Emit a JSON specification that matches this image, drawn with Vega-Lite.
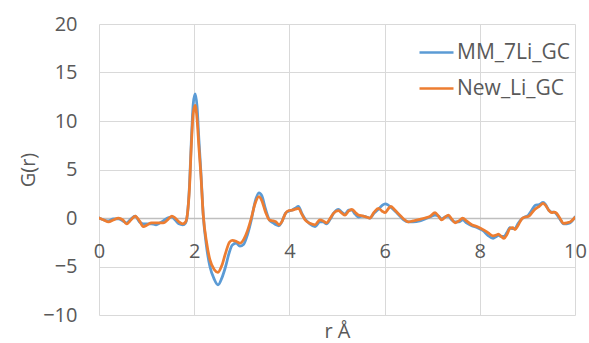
{
  "$schema": "https://vega.github.io/schema/vega-lite/v6.json",
  "width": 476,
  "height": 291,
  "autosize": {"type": "none"},
  "padding": {"left": 99, "top": 24, "right": 14, "bottom": 28},
  "background": "white",
  "config": {
    "view": {"stroke": null},
    "font": "Open Sans",
    "axis": {"labelColor": "#595959", "titleColor": "#595959", "titleFontWeight": "normal", "gridColor": "#d9d9d9", "gridWidth": 1, "ticks": false}
  },
  "datasets": {
    "pts": [
      {"r":0,"G":0,"s":"MM_7Li_GC"},{"r":0.1,"G":-0.2,"s":"MM_7Li_GC"},{"r":0.2,"G":-0.3,"s":"MM_7Li_GC"},{"r":0.3,"G":-0.1,"s":"MM_7Li_GC"},{"r":0.41,"G":-0.1,"s":"MM_7Li_GC"},{"r":0.5,"G":-0.3,"s":"MM_7Li_GC"},{"r":0.58,"G":-0.5,"s":"MM_7Li_GC"},{"r":0.67,"G":-0.1,"s":"MM_7Li_GC"},{"r":0.76,"G":0.2,"s":"MM_7Li_GC"},{"r":0.85,"G":-0.4,"s":"MM_7Li_GC"},{"r":0.93,"G":-0.6,"s":"MM_7Li_GC"},{"r":1.02,"G":-0.6,"s":"MM_7Li_GC"},{"r":1.1,"G":-0.6,"s":"MM_7Li_GC"},{"r":1.2,"G":-0.7,"s":"MM_7Li_GC"},{"r":1.28,"G":-0.5,"s":"MM_7Li_GC"},{"r":1.35,"G":-0.3,"s":"MM_7Li_GC"},{"r":1.44,"G":0.0,"s":"MM_7Li_GC"},{"r":1.53,"G":0.1,"s":"MM_7Li_GC"},{"r":1.6,"G":-0.2,"s":"MM_7Li_GC"},{"r":1.68,"G":-0.6,"s":"MM_7Li_GC"},{"r":1.76,"G":-0.7,"s":"MM_7Li_GC"},{"r":1.82,"G":-0.5,"s":"MM_7Li_GC"},{"r":1.86,"G":0.5,"s":"MM_7Li_GC"},{"r":1.9,"G":3.3,"s":"MM_7Li_GC"},{"r":1.94,"G":8.0,"s":"MM_7Li_GC"},{"r":1.98,"G":11.8,"s":"MM_7Li_GC"},{"r":2.02,"G":12.8,"s":"MM_7Li_GC"},{"r":2.06,"G":11.5,"s":"MM_7Li_GC"},{"r":2.1,"G":8.0,"s":"MM_7Li_GC"},{"r":2.14,"G":4.8,"s":"MM_7Li_GC"},{"r":2.19,"G":0.3,"s":"MM_7Li_GC"},{"r":2.26,"G":-3.0,"s":"MM_7Li_GC"},{"r":2.33,"G":-5.0,"s":"MM_7Li_GC"},{"r":2.42,"G":-6.3,"s":"MM_7Li_GC"},{"r":2.5,"G":-6.9,"s":"MM_7Li_GC"},{"r":2.58,"G":-6.2,"s":"MM_7Li_GC"},{"r":2.66,"G":-5.0,"s":"MM_7Li_GC"},{"r":2.74,"G":-3.5,"s":"MM_7Li_GC"},{"r":2.8,"G":-2.8,"s":"MM_7Li_GC"},{"r":2.88,"G":-2.6,"s":"MM_7Li_GC"},{"r":2.96,"G":-2.9,"s":"MM_7Li_GC"},{"r":3.04,"G":-2.7,"s":"MM_7Li_GC"},{"r":3.12,"G":-1.7,"s":"MM_7Li_GC"},{"r":3.2,"G":-0.2,"s":"MM_7Li_GC"},{"r":3.28,"G":1.7,"s":"MM_7Li_GC"},{"r":3.36,"G":2.6,"s":"MM_7Li_GC"},{"r":3.42,"G":2.3,"s":"MM_7Li_GC"},{"r":3.5,"G":0.9,"s":"MM_7Li_GC"},{"r":3.58,"G":-0.2,"s":"MM_7Li_GC"},{"r":3.66,"G":-0.5,"s":"MM_7Li_GC"},{"r":3.72,"G":-0.7,"s":"MM_7Li_GC"},{"r":3.78,"G":-0.8,"s":"MM_7Li_GC"},{"r":3.84,"G":-0.4,"s":"MM_7Li_GC"},{"r":3.92,"G":0.5,"s":"MM_7Li_GC"},{"r":3.98,"G":0.7,"s":"MM_7Li_GC"},{"r":4.05,"G":0.8,"s":"MM_7Li_GC"},{"r":4.12,"G":1.0,"s":"MM_7Li_GC"},{"r":4.19,"G":1.2,"s":"MM_7Li_GC"},{"r":4.26,"G":0.5,"s":"MM_7Li_GC"},{"r":4.33,"G":-0.1,"s":"MM_7Li_GC"},{"r":4.43,"G":-0.6,"s":"MM_7Li_GC"},{"r":4.54,"G":-0.9,"s":"MM_7Li_GC"},{"r":4.64,"G":-0.4,"s":"MM_7Li_GC"},{"r":4.71,"G":-0.4,"s":"MM_7Li_GC"},{"r":4.78,"G":-0.6,"s":"MM_7Li_GC"},{"r":4.86,"G":-0.1,"s":"MM_7Li_GC"},{"r":4.93,"G":0.5,"s":"MM_7Li_GC"},{"r":5.03,"G":0.9,"s":"MM_7Li_GC"},{"r":5.1,"G":0.6,"s":"MM_7Li_GC"},{"r":5.17,"G":0.4,"s":"MM_7Li_GC"},{"r":5.24,"G":0.8,"s":"MM_7Li_GC"},{"r":5.31,"G":0.8,"s":"MM_7Li_GC"},{"r":5.38,"G":0.4,"s":"MM_7Li_GC"},{"r":5.45,"G":0.1,"s":"MM_7Li_GC"},{"r":5.55,"G":0.2,"s":"MM_7Li_GC"},{"r":5.62,"G":0.1,"s":"MM_7Li_GC"},{"r":5.69,"G":0.0,"s":"MM_7Li_GC"},{"r":5.78,"G":0.5,"s":"MM_7Li_GC"},{"r":5.87,"G":0.9,"s":"MM_7Li_GC"},{"r":5.95,"G":1.3,"s":"MM_7Li_GC"},{"r":6.01,"G":1.45,"s":"MM_7Li_GC"},{"r":6.07,"G":1.35,"s":"MM_7Li_GC"},{"r":6.13,"G":1.1,"s":"MM_7Li_GC"},{"r":6.2,"G":0.8,"s":"MM_7Li_GC"},{"r":6.26,"G":0.5,"s":"MM_7Li_GC"},{"r":6.32,"G":0.2,"s":"MM_7Li_GC"},{"r":6.4,"G":-0.2,"s":"MM_7Li_GC"},{"r":6.5,"G":-0.4,"s":"MM_7Li_GC"},{"r":6.6,"G":-0.4,"s":"MM_7Li_GC"},{"r":6.74,"G":-0.3,"s":"MM_7Li_GC"},{"r":6.85,"G":-0.1,"s":"MM_7Li_GC"},{"r":6.95,"G":0.1,"s":"MM_7Li_GC"},{"r":7.06,"G":0.3,"s":"MM_7Li_GC"},{"r":7.13,"G":0.2,"s":"MM_7Li_GC"},{"r":7.2,"G":-0.1,"s":"MM_7Li_GC"},{"r":7.27,"G":0.1,"s":"MM_7Li_GC"},{"r":7.34,"G":0.2,"s":"MM_7Li_GC"},{"r":7.41,"G":-0.2,"s":"MM_7Li_GC"},{"r":7.48,"G":-0.4,"s":"MM_7Li_GC"},{"r":7.56,"G":-0.4,"s":"MM_7Li_GC"},{"r":7.64,"G":-0.2,"s":"MM_7Li_GC"},{"r":7.72,"G":-0.5,"s":"MM_7Li_GC"},{"r":7.83,"G":-0.8,"s":"MM_7Li_GC"},{"r":7.95,"G":-1.0,"s":"MM_7Li_GC"},{"r":8.07,"G":-1.3,"s":"MM_7Li_GC"},{"r":8.17,"G":-1.8,"s":"MM_7Li_GC"},{"r":8.28,"G":-2.1,"s":"MM_7Li_GC"},{"r":8.35,"G":-1.9,"s":"MM_7Li_GC"},{"r":8.39,"G":-1.8,"s":"MM_7Li_GC"},{"r":8.45,"G":-1.9,"s":"MM_7Li_GC"},{"r":8.51,"G":-1.9,"s":"MM_7Li_GC"},{"r":8.57,"G":-1.5,"s":"MM_7Li_GC"},{"r":8.63,"G":-1.0,"s":"MM_7Li_GC"},{"r":8.69,"G":-1.1,"s":"MM_7Li_GC"},{"r":8.74,"G":-1.1,"s":"MM_7Li_GC"},{"r":8.8,"G":-0.6,"s":"MM_7Li_GC"},{"r":8.88,"G":-0.1,"s":"MM_7Li_GC"},{"r":8.95,"G":0.1,"s":"MM_7Li_GC"},{"r":9.02,"G":0.3,"s":"MM_7Li_GC"},{"r":9.09,"G":0.8,"s":"MM_7Li_GC"},{"r":9.16,"G":1.3,"s":"MM_7Li_GC"},{"r":9.25,"G":1.4,"s":"MM_7Li_GC"},{"r":9.33,"G":1.6,"s":"MM_7Li_GC"},{"r":9.38,"G":1.4,"s":"MM_7Li_GC"},{"r":9.45,"G":0.8,"s":"MM_7Li_GC"},{"r":9.51,"G":0.6,"s":"MM_7Li_GC"},{"r":9.56,"G":0.6,"s":"MM_7Li_GC"},{"r":9.61,"G":0.4,"s":"MM_7Li_GC"},{"r":9.68,"G":-0.1,"s":"MM_7Li_GC"},{"r":9.76,"G":-0.6,"s":"MM_7Li_GC"},{"r":9.83,"G":-0.6,"s":"MM_7Li_GC"},{"r":9.9,"G":-0.5,"s":"MM_7Li_GC"},{"r":10,"G":0.1,"s":"MM_7Li_GC"},

      {"r":0,"G":0,"s":"New_Li_GC"},{"r":0.1,"G":-0.2,"s":"New_Li_GC"},{"r":0.2,"G":-0.4,"s":"New_Li_GC"},{"r":0.3,"G":-0.2,"s":"New_Li_GC"},{"r":0.41,"G":0.0,"s":"New_Li_GC"},{"r":0.5,"G":-0.2,"s":"New_Li_GC"},{"r":0.58,"G":-0.6,"s":"New_Li_GC"},{"r":0.67,"G":-0.2,"s":"New_Li_GC"},{"r":0.76,"G":0.2,"s":"New_Li_GC"},{"r":0.85,"G":-0.3,"s":"New_Li_GC"},{"r":0.93,"G":-0.9,"s":"New_Li_GC"},{"r":1.02,"G":-0.7,"s":"New_Li_GC"},{"r":1.1,"G":-0.5,"s":"New_Li_GC"},{"r":1.2,"G":-0.5,"s":"New_Li_GC"},{"r":1.28,"G":-0.5,"s":"New_Li_GC"},{"r":1.35,"G":-0.5,"s":"New_Li_GC"},{"r":1.44,"G":-0.2,"s":"New_Li_GC"},{"r":1.53,"G":0.2,"s":"New_Li_GC"},{"r":1.6,"G":0.0,"s":"New_Li_GC"},{"r":1.68,"G":-0.4,"s":"New_Li_GC"},{"r":1.76,"G":-0.6,"s":"New_Li_GC"},{"r":1.82,"G":-0.4,"s":"New_Li_GC"},{"r":1.86,"G":0.5,"s":"New_Li_GC"},{"r":1.9,"G":3.0,"s":"New_Li_GC"},{"r":1.94,"G":7.5,"s":"New_Li_GC"},{"r":1.98,"G":10.8,"s":"New_Li_GC"},{"r":2.02,"G":11.6,"s":"New_Li_GC"},{"r":2.06,"G":10.2,"s":"New_Li_GC"},{"r":2.1,"G":7.2,"s":"New_Li_GC"},{"r":2.14,"G":4.5,"s":"New_Li_GC"},{"r":2.19,"G":0.3,"s":"New_Li_GC"},{"r":2.26,"G":-2.5,"s":"New_Li_GC"},{"r":2.33,"G":-4.3,"s":"New_Li_GC"},{"r":2.42,"G":-5.3,"s":"New_Li_GC"},{"r":2.5,"G":-5.6,"s":"New_Li_GC"},{"r":2.58,"G":-4.9,"s":"New_Li_GC"},{"r":2.66,"G":-3.6,"s":"New_Li_GC"},{"r":2.74,"G":-2.5,"s":"New_Li_GC"},{"r":2.8,"G":-2.3,"s":"New_Li_GC"},{"r":2.88,"G":-2.4,"s":"New_Li_GC"},{"r":2.96,"G":-2.6,"s":"New_Li_GC"},{"r":3.04,"G":-2.2,"s":"New_Li_GC"},{"r":3.12,"G":-1.3,"s":"New_Li_GC"},{"r":3.2,"G":0.0,"s":"New_Li_GC"},{"r":3.28,"G":1.5,"s":"New_Li_GC"},{"r":3.36,"G":2.2,"s":"New_Li_GC"},{"r":3.42,"G":1.8,"s":"New_Li_GC"},{"r":3.5,"G":0.6,"s":"New_Li_GC"},{"r":3.58,"G":-0.2,"s":"New_Li_GC"},{"r":3.66,"G":-0.3,"s":"New_Li_GC"},{"r":3.72,"G":-0.4,"s":"New_Li_GC"},{"r":3.78,"G":-0.7,"s":"New_Li_GC"},{"r":3.84,"G":-0.4,"s":"New_Li_GC"},{"r":3.92,"G":0.5,"s":"New_Li_GC"},{"r":3.98,"G":0.75,"s":"New_Li_GC"},{"r":4.05,"G":0.8,"s":"New_Li_GC"},{"r":4.12,"G":0.9,"s":"New_Li_GC"},{"r":4.19,"G":1.0,"s":"New_Li_GC"},{"r":4.26,"G":0.4,"s":"New_Li_GC"},{"r":4.33,"G":-0.2,"s":"New_Li_GC"},{"r":4.43,"G":-0.55,"s":"New_Li_GC"},{"r":4.54,"G":-0.7,"s":"New_Li_GC"},{"r":4.64,"G":-0.2,"s":"New_Li_GC"},{"r":4.71,"G":-0.3,"s":"New_Li_GC"},{"r":4.78,"G":-0.5,"s":"New_Li_GC"},{"r":4.86,"G":0.0,"s":"New_Li_GC"},{"r":4.93,"G":0.5,"s":"New_Li_GC"},{"r":5.03,"G":0.75,"s":"New_Li_GC"},{"r":5.1,"G":0.5,"s":"New_Li_GC"},{"r":5.17,"G":0.3,"s":"New_Li_GC"},{"r":5.24,"G":0.7,"s":"New_Li_GC"},{"r":5.31,"G":0.9,"s":"New_Li_GC"},{"r":5.38,"G":0.6,"s":"New_Li_GC"},{"r":5.45,"G":0.3,"s":"New_Li_GC"},{"r":5.55,"G":0.2,"s":"New_Li_GC"},{"r":5.62,"G":0.1,"s":"New_Li_GC"},{"r":5.69,"G":0.0,"s":"New_Li_GC"},{"r":5.78,"G":0.6,"s":"New_Li_GC"},{"r":5.87,"G":1.0,"s":"New_Li_GC"},{"r":5.95,"G":0.7,"s":"New_Li_GC"},{"r":6.01,"G":0.55,"s":"New_Li_GC"},{"r":6.07,"G":0.9,"s":"New_Li_GC"},{"r":6.13,"G":1.2,"s":"New_Li_GC"},{"r":6.2,"G":0.9,"s":"New_Li_GC"},{"r":6.26,"G":0.6,"s":"New_Li_GC"},{"r":6.32,"G":0.3,"s":"New_Li_GC"},{"r":6.4,"G":-0.1,"s":"New_Li_GC"},{"r":6.5,"G":-0.4,"s":"New_Li_GC"},{"r":6.6,"G":-0.3,"s":"New_Li_GC"},{"r":6.74,"G":-0.15,"s":"New_Li_GC"},{"r":6.85,"G":0.0,"s":"New_Li_GC"},{"r":6.95,"G":0.15,"s":"New_Li_GC"},{"r":7.06,"G":0.55,"s":"New_Li_GC"},{"r":7.13,"G":0.2,"s":"New_Li_GC"},{"r":7.2,"G":-0.2,"s":"New_Li_GC"},{"r":7.27,"G":0.1,"s":"New_Li_GC"},{"r":7.34,"G":0.3,"s":"New_Li_GC"},{"r":7.41,"G":-0.1,"s":"New_Li_GC"},{"r":7.48,"G":-0.5,"s":"New_Li_GC"},{"r":7.56,"G":-0.3,"s":"New_Li_GC"},{"r":7.64,"G":0.0,"s":"New_Li_GC"},{"r":7.72,"G":-0.3,"s":"New_Li_GC"},{"r":7.83,"G":-0.7,"s":"New_Li_GC"},{"r":7.95,"G":-0.9,"s":"New_Li_GC"},{"r":8.07,"G":-1.2,"s":"New_Li_GC"},{"r":8.17,"G":-1.5,"s":"New_Li_GC"},{"r":8.28,"G":-1.85,"s":"New_Li_GC"},{"r":8.35,"G":-1.75,"s":"New_Li_GC"},{"r":8.39,"G":-1.65,"s":"New_Li_GC"},{"r":8.45,"G":-1.9,"s":"New_Li_GC"},{"r":8.51,"G":-2.1,"s":"New_Li_GC"},{"r":8.57,"G":-1.7,"s":"New_Li_GC"},{"r":8.63,"G":-1.1,"s":"New_Li_GC"},{"r":8.69,"G":-1.0,"s":"New_Li_GC"},{"r":8.74,"G":-1.2,"s":"New_Li_GC"},{"r":8.8,"G":-0.8,"s":"New_Li_GC"},{"r":8.88,"G":-0.1,"s":"New_Li_GC"},{"r":8.95,"G":0.1,"s":"New_Li_GC"},{"r":9.02,"G":0.15,"s":"New_Li_GC"},{"r":9.09,"G":0.5,"s":"New_Li_GC"},{"r":9.16,"G":0.9,"s":"New_Li_GC"},{"r":9.25,"G":1.2,"s":"New_Li_GC"},{"r":9.33,"G":1.5,"s":"New_Li_GC"},{"r":9.38,"G":1.3,"s":"New_Li_GC"},{"r":9.45,"G":0.8,"s":"New_Li_GC"},{"r":9.51,"G":0.55,"s":"New_Li_GC"},{"r":9.56,"G":0.6,"s":"New_Li_GC"},{"r":9.61,"G":0.5,"s":"New_Li_GC"},{"r":9.68,"G":0.0,"s":"New_Li_GC"},{"r":9.76,"G":-0.55,"s":"New_Li_GC"},{"r":9.83,"G":-0.5,"s":"New_Li_GC"},{"r":9.9,"G":-0.4,"s":"New_Li_GC"},{"r":10,"G":0.05,"s":"New_Li_GC"}
    ]
  },
  "data": {"name": "pts"},
  "mark": {"type": "line", "interpolate": "monotone", "strokeWidth": 2.75, "strokeCap": "round", "strokeJoin": "round", "clip": true},
  "encoding": {
    "x": {
      "field": "r", "type": "quantitative",
      "scale": {"domain": [0, 10], "nice": false},
      "axis": {"title": "r Å", "values": [0, 2, 4, 6, 8, 10], "offset": -97, "domain": true, "domainColor": "#bfbfbf", "domainWidth": 1.5, "labelFontSize": 20, "labelPadding": 23, "titleFontSize": 20, "titlePadding": 60, "grid": true, "labelFlush": false}
    },
    "y": {
      "field": "G", "type": "quantitative",
      "scale": {"domain": [-10, 20], "nice": false},
      "axis": {"title": "G(r)", "values": [-10, -5, 0, 5, 10, 15, 20], "domain": false, "labelFontSize": 20, "labelPadding": 22, "titleFontSize": 20, "titlePadding": 4, "grid": true}
    },
    "color": {
      "field": "s", "type": "nominal", "title": null,
      "scale": {"domain": ["MM_7Li_GC", "New_Li_GC"], "range": ["#5B9BD5", "#ED7D31"]},
      "legend": {"orient": "none", "legendX": 319, "legendY": 10, "symbolType": "stroke", "symbolSize": 1156, "symbolStrokeWidth": 2.5, "labelFontSize": 21, "labelColor": "#595959", "rowPadding": 7, "labelOffset": 2}
    },
    "order": {"field": "s"}
  }
}
